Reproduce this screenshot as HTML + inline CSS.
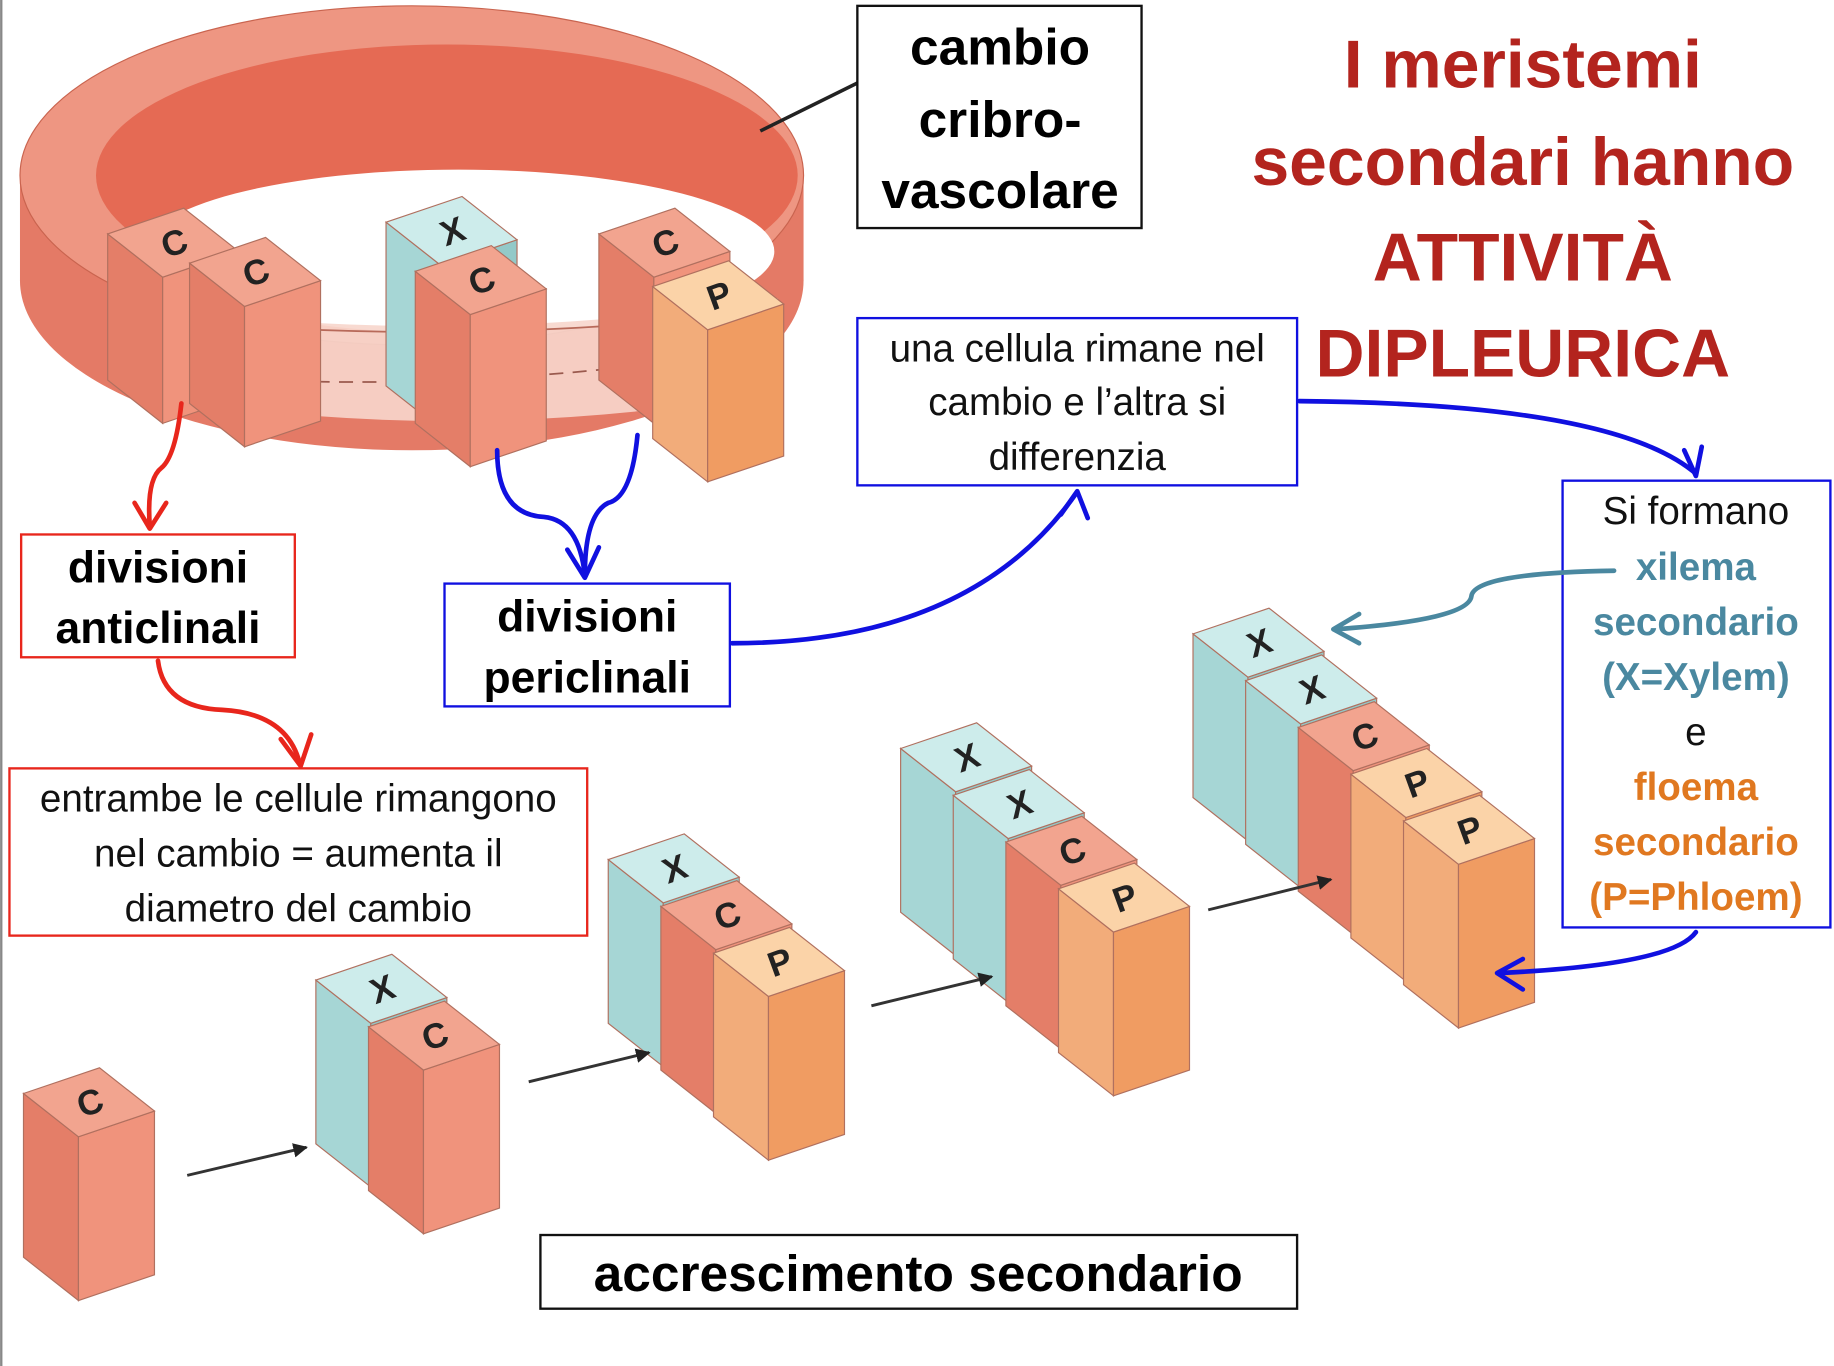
<!DOCTYPE html>
<html><head><meta charset="utf-8"><style>
html,body{margin:0;padding:0;background:#fff;}
svg{display:block;}
text{font-family:"Liberation Sans","DejaVu Sans",sans-serif;}
</style></head><body>
<svg width="1834" height="1366" viewBox="0 0 1568 1168" xmlns="http://www.w3.org/2000/svg">
<defs>
<marker id="ab" viewBox="0 0 10 10" refX="9" refY="5" markerWidth="5" markerHeight="5" orient="auto"><path d="M0,0 L10,5 L0,10 z" fill="#222"/></marker>
</defs>
<rect x="0" y="0" width="2" height="1168" fill="#888"/>
<!-- ring -->
<ellipse cx="352" cy="240" rx="335" ry="145" fill="#e47a66"/>
<rect x="17" y="150" width="670" height="90" fill="#e47a66"/>
<ellipse cx="352" cy="150" rx="335" ry="145" fill="#ee9682" stroke="#c9644f" stroke-width="1"/>
<ellipse cx="382" cy="150" rx="300" ry="112" fill="#e56a54"/>
<ellipse cx="392" cy="215" rx="270" ry="70" fill="#ffffff"/>
<path d="M110,260 Q380,300 665,255 L665,335 Q380,385 110,335 z" fill="#f7d6cc" opacity="0.9"/>
<path d="M110,270 Q380,300 665,265" fill="none" stroke="#b86a5a" stroke-width="1.5"/>
<path d="M150,320 Q380,340 640,300" fill="none" stroke="#9a5a4e" stroke-width="1.5" stroke-dasharray="12,8"/>
<g id="all"></g>
<!-- black lines -->
<line x1="650" y1="112" x2="735" y2="70" stroke="#222" stroke-width="3"/>
<line x1="160" y1="1005" x2="262" y2="981" stroke="#333" stroke-width="2.5" marker-end="url(#ab)"/>
<line x1="452" y1="925" x2="555" y2="900" stroke="#333" stroke-width="2.5" marker-end="url(#ab)"/>
<line x1="745" y1="860" x2="848" y2="835" stroke="#333" stroke-width="2.5" marker-end="url(#ab)"/>
<line x1="1033" y1="778" x2="1138" y2="752" stroke="#333" stroke-width="2.5" marker-end="url(#ab)"/>
<!-- boxes -->
<rect x="733" y="5" width="243" height="190" fill="#fff" stroke="#111" stroke-width="2"/>
<text x="855" y="55" font-size="44" font-weight="bold" text-anchor="middle">cambio</text>
<text x="855" y="117" font-size="44" font-weight="bold" text-anchor="middle">cribro-</text>
<text x="855" y="178" font-size="44" font-weight="bold" text-anchor="middle">vascolare</text>
<g fill="#b3241e" font-size="58" font-weight="bold" text-anchor="middle">
<text x="1302" y="75">I meristemi</text>
<text x="1302" y="158">secondari hanno</text>
<text x="1302" y="240">ATTIVITÀ</text>
<text x="1302" y="322">DIPLEURICA</text>
</g>
<rect x="18" y="457" width="234" height="105" fill="#fff" stroke="#e8261c" stroke-width="2"/>
<text x="135" y="498" font-size="38" font-weight="bold" text-anchor="middle">divisioni</text>
<text x="135" y="550" font-size="38" font-weight="bold" text-anchor="middle">anticlinali</text>
<rect x="380" y="499" width="244" height="105" fill="#fff" stroke="#1010e0" stroke-width="2"/>
<text x="502" y="540" font-size="38" font-weight="bold" text-anchor="middle">divisioni</text>
<text x="502" y="592" font-size="38" font-weight="bold" text-anchor="middle">periclinali</text>
<rect x="733" y="272" width="376" height="143" fill="#fff" stroke="#1010e0" stroke-width="2"/>
<g font-size="33" text-anchor="middle" fill="#111">
<text x="921" y="309">una cellula rimane nel</text>
<text x="921" y="355">cambio e l’altra si</text>
<text x="921" y="402">differenzia</text>
</g>
<rect x="8" y="657" width="494" height="143" fill="#fff" stroke="#e8261c" stroke-width="2"/>
<g font-size="33" text-anchor="middle" fill="#111">
<text x="255" y="694">entrambe le cellule rimangono</text>
<text x="255" y="741">nel cambio = aumenta il</text>
<text x="255" y="788">diametro del cambio</text>
</g>
<rect x="1336" y="411" width="229" height="382" fill="#fff" stroke="#1010e0" stroke-width="2"/>
<g font-size="33" text-anchor="middle">
<text x="1450" y="448" fill="#111">Si formano</text>
<text x="1450" y="496" fill="#4a88a0" font-weight="bold">xilema</text>
<text x="1450" y="543" fill="#4a88a0" font-weight="bold">secondario</text>
<text x="1450" y="590" fill="#4a88a0" font-weight="bold">(X=Xylem)</text>
<text x="1450" y="637" fill="#111">e</text>
<text x="1450" y="684" fill="#e07820" font-weight="bold">floema</text>
<text x="1450" y="731" fill="#e07820" font-weight="bold">secondario</text>
<text x="1450" y="778" fill="#e07820" font-weight="bold">(P=Phloem)</text>
</g>
<rect x="462" y="1056" width="647" height="63" fill="#fff" stroke="#111" stroke-width="2"/>
<text x="785" y="1104" font-size="44" font-weight="bold" text-anchor="middle">accrescimento secondario</text>
<!-- connectors -->
<g fill="none" stroke-width="4" stroke-linecap="round" stroke-linejoin="round">
<path d="M155,345 Q150,390 138,400 Q125,410 128,450" stroke="#e8261c"/>
<path d="M115,430 L128,452 L142,430" stroke="#e8261c"/>
<path d="M135,565 Q140,605 190,607 Q245,610 256,652" stroke="#e8261c"/>
<path d="M240,632 L257,655 L266,628" stroke="#e8261c"/>
<path d="M425,385 Q425,440 465,442 Q495,445 500,492" stroke="#1010e0"/>
<path d="M545,372 Q540,425 520,430 Q500,440 500,492" stroke="#1010e0"/>
<path d="M485,470 L500,494 L512,468" stroke="#1010e0"/>
<path d="M626,550 Q830,550 920,422" stroke="#1010e0"/>
<path d="M907,440 L921,420 L930,443" stroke="#1010e0"/>
<path d="M1111,343 Q1380,345 1450,405" stroke="#1010e0"/>
<path d="M1440,385 L1450,407 L1455,382" stroke="#1010e0"/>
<path d="M1380,488 Q1260,490 1258,510 Q1255,530 1142,538" stroke="#4a88a0"/>
<path d="M1162,525 L1140,538 L1162,550" stroke="#4a88a0"/>
<path d="M1450,797 Q1430,825 1282,832" stroke="#1010e0"/>
<path d="M1302,820 L1280,832 L1302,846" stroke="#1010e0"/>
</g>
</svg>
<script>
(function(){
var C={C:["#f2a48f","#e47e68","#f0937c"],X:["#cdeceb","#a6d6d5","#93c9c8"],P:["#fbd3a8","#f2ac7a","#f09c62"]};
function cube(x,y,t,H){
 H=H||140;var c=C[t];
 var L=[x,y],T=[x+65,y-22],R=[x+112,y+15],F=[x+47,y+37];
 var s='';
 s+='<path d="M'+L+' L'+F+' L'+F[0]+','+(F[1]+H)+' L'+x+','+(y+H)+' z" fill="'+c[1]+'" stroke="#b0705f" stroke-width="1"/>';
 s+='<path d="M'+F+' L'+R+' L'+R[0]+','+(R[1]+H)+' L'+F[0]+','+(F[1]+H)+' z" fill="'+c[2]+'" stroke="#b0705f" stroke-width="1"/>';
 s+='<path d="M'+L+' L'+T+' L'+R+' L'+F+' z" fill="'+c[0]+'" stroke="#b0705f" stroke-width="1"/>';
 s+='<text x="'+(x+57)+'" y="'+(y+18)+'" font-size="30" font-weight="bold" fill="#222" text-anchor="middle" transform="rotate(-20 '+(x+57)+' '+(y+8)+')">'+t+'</text>';
 return s;
}
function stack(x,y,ts){var s='';for(var i=0;i<ts.length;i++)s+=cube(x+45*i,y+40*i,ts[i]);return s;}
var s='';
s+=cube(92,200,'C',125)+cube(162,225,'C',120);
s+=cube(330,190,'X',140)+cube(355,232,'C',130);
s+=cube(512,200,'C',125)+cube(558,245,'P',130);
s+=cube(20,935,'C');
s+=stack(270,838,['X','C']);
s+=stack(520,735,['X','C','P']);
s+=stack(770,640,['X','X','C','P']);
s+=stack(1020,542,['X','X','C','P','P']);
document.getElementById('all').innerHTML=s;
})();
</script>
</body></html>
